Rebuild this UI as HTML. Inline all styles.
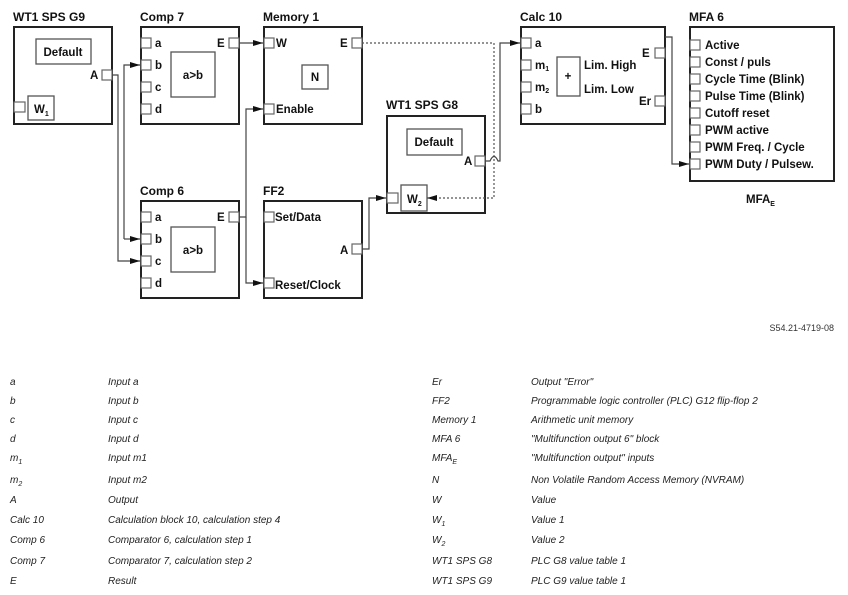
<!DOCTYPE html>
<html><head><meta charset="utf-8"><style>
body{margin:0;background:#fff}
svg{display:block;font-family:"Liberation Sans",Arial,sans-serif}
.b{fill:#fff;stroke:#222;stroke-width:2}
.p{fill:#fff;stroke:#666;stroke-width:1.2}
.i{fill:#fff;stroke:#555;stroke-width:1.3}
.t{font-weight:bold;font-size:12px;fill:#111}
.l{font-weight:bold;font-size:11.5px;fill:#111}
.w{fill:none;stroke:#444;stroke-width:1.2}
.d{fill:none;stroke:#555;stroke-width:1.2;stroke-dasharray:2,2}
.g{font-style:italic;font-size:10px;fill:#222}
</style></head><body>
<svg width="848" height="595" viewBox="0 0 848 595">
<defs><marker id="a" markerWidth="10" markerHeight="8" refX="10" refY="4" orient="auto" markerUnits="userSpaceOnUse"><path d="M0,1 L10,4 L0,7z" fill="#111"/></marker></defs>

<!-- G9 -->
<text class="t" x="13" y="21">WT1 SPS G9</text>
<rect class="b" x="14" y="27" width="98" height="97"/>
<rect class="i" x="36" y="39" width="55" height="25"/>
<text class="l" x="63" y="56" text-anchor="middle">Default</text>
<rect class="p" x="102" y="70" width="10" height="10"/>
<text class="l" x="90" y="79">A</text>
<rect class="i" x="28" y="96" width="26" height="24"/>
<text class="l" x="34" y="113">W<tspan font-size="7" dy="3">1</tspan></text>
<rect class="p" x="14" y="102" width="11" height="10"/>

<!-- Comp 7 -->
<text class="t" x="140" y="21">Comp 7</text>
<rect class="b" x="141" y="27" width="98" height="97"/>
<g class="l"><text x="155" y="47">a</text><text x="155" y="69">b</text><text x="155" y="91">c</text><text x="155" y="113">d</text><text x="217" y="47">E</text></g>
<rect class="p" x="141" y="38" width="10" height="10"/><rect class="p" x="141" y="60" width="10" height="10"/><rect class="p" x="141" y="82" width="10" height="10"/><rect class="p" x="141" y="104" width="10" height="10"/>
<rect class="p" x="229" y="38" width="10" height="10"/>
<rect class="i" x="171" y="52" width="44" height="45"/>
<text class="l" x="193" y="79" text-anchor="middle">a&gt;b</text>

<!-- Memory 1 -->
<text class="t" x="263" y="21">Memory 1</text>
<rect class="b" x="264" y="27" width="98" height="97"/>
<rect class="p" x="264" y="38" width="10" height="10"/><rect class="p" x="264" y="104" width="10" height="10"/>
<rect class="p" x="352" y="38" width="10" height="10"/>
<g class="l"><text x="276" y="47">W</text><text x="340" y="47">E</text><text x="276" y="113">Enable</text></g>
<rect class="i" x="302" y="65" width="26" height="24"/>
<text class="l" x="315" y="81" text-anchor="middle">N</text>

<!-- Comp 6 -->
<text class="t" x="140" y="195">Comp 6</text>
<rect class="b" x="141" y="201" width="98" height="97"/>
<g class="l"><text x="155" y="221">a</text><text x="155" y="243">b</text><text x="155" y="265">c</text><text x="155" y="287">d</text><text x="217" y="221">E</text></g>
<rect class="p" x="141" y="212" width="10" height="10"/><rect class="p" x="141" y="234" width="10" height="10"/><rect class="p" x="141" y="256" width="10" height="10"/><rect class="p" x="141" y="278" width="10" height="10"/>
<rect class="p" x="229" y="212" width="10" height="10"/>
<rect class="i" x="171" y="227" width="44" height="45"/>
<text class="l" x="193" y="254" text-anchor="middle">a&gt;b</text>

<!-- FF2 -->
<text class="t" x="263" y="195">FF2</text>
<rect class="b" x="264" y="201" width="98" height="97"/>
<rect class="p" x="264" y="212" width="10" height="10"/><rect class="p" x="264" y="278" width="10" height="10"/>
<rect class="p" x="352" y="244" width="10" height="10"/>
<g class="l"><text x="275" y="221">Set/Data</text><text x="275" y="289">Reset/Clock</text><text x="340" y="254">A</text></g>

<!-- G8 -->
<text class="t" x="386" y="109">WT1 SPS G8</text>
<rect class="b" x="387" y="116" width="98" height="97"/>
<rect class="i" x="407" y="129" width="55" height="26"/>
<text class="l" x="434" y="146" text-anchor="middle">Default</text>
<rect class="p" x="475" y="156" width="10" height="10"/>
<text class="l" x="464" y="165">A</text>
<rect class="i" x="401" y="185" width="26" height="26"/>
<text class="l" x="407" y="203">W<tspan font-size="7" dy="3">2</tspan></text>
<rect class="p" x="387" y="193" width="11" height="10"/>

<!-- Calc 10 -->
<text class="t" x="520" y="21">Calc 10</text>
<rect class="b" x="521" y="27" width="144" height="97"/>
<rect class="p" x="521" y="38" width="10" height="10"/><rect class="p" x="521" y="60" width="10" height="10"/><rect class="p" x="521" y="82" width="10" height="10"/><rect class="p" x="521" y="104" width="10" height="10"/>
<rect class="p" x="655" y="48" width="10" height="10"/><rect class="p" x="655" y="96" width="10" height="10"/>
<g class="l"><text x="535" y="47">a</text><text x="535" y="69">m<tspan font-size="7" dy="2">1</tspan></text><text x="535" y="91">m<tspan font-size="7" dy="2">2</tspan></text><text x="535" y="113">b</text>
<text x="584" y="69">Lim. High</text><text x="584" y="93">Lim. Low</text><text x="642" y="57">E</text><text x="639" y="105">Er</text></g>
<rect class="i" x="557" y="57" width="23" height="39"/>
<text class="l" x="568" y="80" text-anchor="middle" font-size="10">+</text>

<!-- MFA 6 -->
<text class="t" x="689" y="21">MFA 6</text>
<rect class="b" x="690" y="27" width="144" height="154"/>
<g class="l">
<text x="705" y="49">Active</text><text x="705" y="66">Const / puls</text><text x="705" y="83">Cycle Time (Blink)</text><text x="705" y="100">Pulse Time (Blink)</text><text x="705" y="117">Cutoff reset</text><text x="705" y="134">PWM active</text><text x="705" y="151">PWM Freq. / Cycle</text><text x="705" y="168">PWM Duty / Pulsew.</text>
</g>
<g><rect class="p" x="690" y="40" width="10" height="10"/><rect class="p" x="690" y="57" width="10" height="10"/><rect class="p" x="690" y="74" width="10" height="10"/><rect class="p" x="690" y="91" width="10" height="10"/><rect class="p" x="690" y="108" width="10" height="10"/><rect class="p" x="690" y="125" width="10" height="10"/><rect class="p" x="690" y="142" width="10" height="10"/><rect class="p" x="690" y="159" width="10" height="10"/></g>
<text class="l" x="746" y="203">MFA<tspan font-size="7" dy="3">E</tspan></text>

<!-- wires -->
<path class="w" d="M112,75 H118 V261 H140" marker-end="url(#a)"/>
<path class="w" d="M124,239 V65 H140" marker-end="url(#a)"/>
<path class="w" d="M124,239 H140" marker-end="url(#a)"/>
<path class="w" d="M239,43 H263" marker-end="url(#a)"/>
<path class="w" d="M239,217 H246 V109 H263" marker-end="url(#a)"/>
<path class="w" d="M246,217 V283 H263" marker-end="url(#a)"/>
<path class="w" d="M362,249 H369 V198 H386" marker-end="url(#a)"/>
<path class="d" d="M362,43 H494 V198 H427" marker-end="url(#a)"/>
<path class="w" d="M485,161 H490 Q494,152 498,161 H500 V43 H520" marker-end="url(#a)"/>
<path class="w" d="M665,37 H672 V164 H689" marker-end="url(#a)"/>

<text x="834" y="331" font-size="9" fill="#333" text-anchor="end">S54.21-4719-08</text>

<!-- legend -->
<g class="g">
<text x="10" y="385">a</text><text x="108" y="385">Input a</text>
<text x="10" y="404">b</text><text x="108" y="404">Input b</text>
<text x="10" y="423">c</text><text x="108" y="423">Input c</text>
<text x="10" y="442">d</text><text x="108" y="442">Input d</text>
<text x="10" y="461">m<tspan font-size="7" dy="3">1</tspan></text><text x="108" y="461">Input m1</text>
<text x="10" y="483">m<tspan font-size="7" dy="3">2</tspan></text><text x="108" y="483">Input m2</text>
<text x="10" y="503">A</text><text x="108" y="503">Output</text>
<text x="10" y="523">Calc 10</text><text x="108" y="523">Calculation block 10, calculation step 4</text>
<text x="10" y="543">Comp 6</text><text x="108" y="543">Comparator 6, calculation step 1</text>
<text x="10" y="564">Comp 7</text><text x="108" y="564">Comparator 7, calculation step 2</text>
<text x="10" y="584">E</text><text x="108" y="584">Result</text>

<text x="432" y="385">Er</text><text x="531" y="385">Output "Error"</text>
<text x="432" y="404">FF2</text><text x="531" y="404">Programmable logic controller (PLC) G12 flip-flop 2</text>
<text x="432" y="423">Memory 1</text><text x="531" y="423">Arithmetic unit memory</text>
<text x="432" y="442">MFA 6</text><text x="531" y="442">"Multifunction output 6" block</text>
<text x="432" y="461">MFA<tspan font-size="7" dy="3">E</tspan></text><text x="531" y="461">"Multifunction output" inputs</text>
<text x="432" y="483">N</text><text x="531" y="483">Non Volatile Random Access Memory (NVRAM)</text>
<text x="432" y="503">W</text><text x="531" y="503">Value</text>
<text x="432" y="523">W<tspan font-size="7" dy="3">1</tspan></text><text x="531" y="523">Value 1</text>
<text x="432" y="543">W<tspan font-size="7" dy="3">2</tspan></text><text x="531" y="543">Value 2</text>
<text x="432" y="564">WT1 SPS G8</text><text x="531" y="564">PLC G8 value table 1</text>
<text x="432" y="584">WT1 SPS G9</text><text x="531" y="584">PLC G9 value table 1</text>
</g>
</svg>
</body></html>
